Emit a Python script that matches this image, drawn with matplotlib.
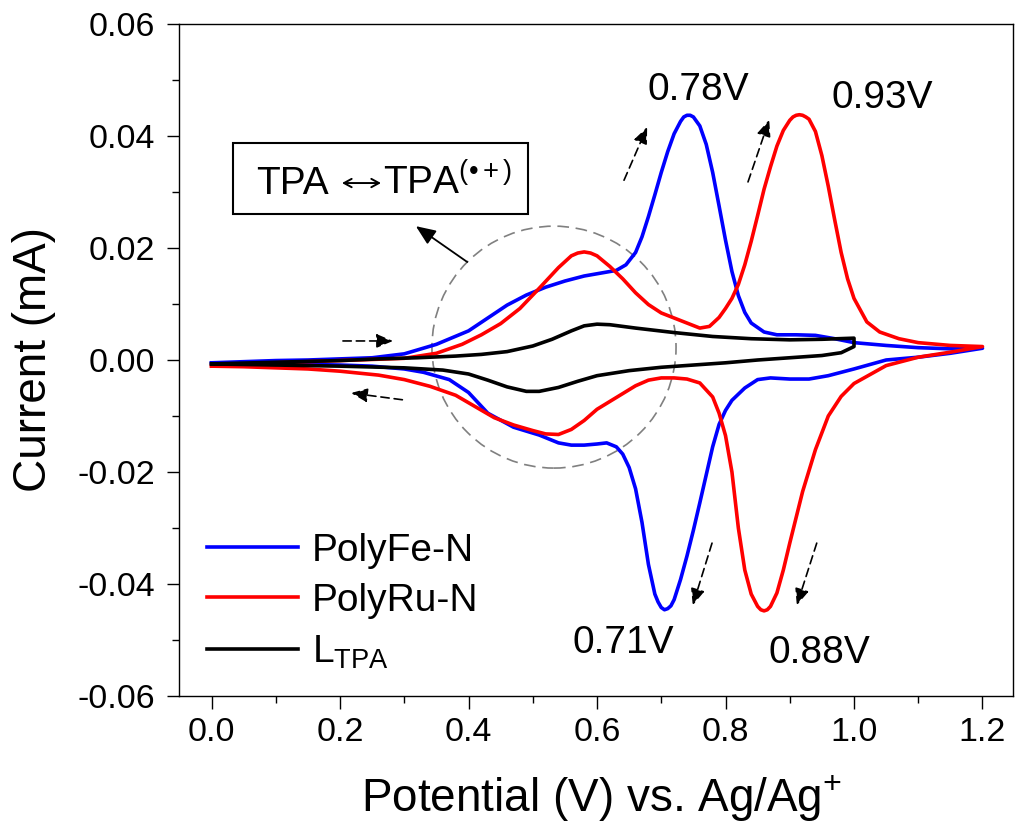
"""Cyclic voltammograms of PolyFe-N, PolyRu-N and the L_TPA ligand."""
import matplotlib
matplotlib.use("Agg")
import matplotlib.pyplot as plt
from matplotlib.patches import Ellipse, Rectangle
from matplotlib.ticker import MultipleLocator

plt.rcParams["font.family"] = ["Liberation Sans", "DejaVu Sans"]
plt.rcParams["mathtext.fontset"] = "custom"
plt.rcParams["mathtext.rm"] = "Liberation Sans"
plt.rcParams["mathtext.it"] = "Liberation Sans:italic"
plt.rcParams["mathtext.bf"] = "Liberation Sans:bold"

# PolyFe-N: anodic (forward) sweep 0 -> 1.2 V, then cathodic (reverse) 1.2 -> 0 V
FE_FWD_E = [0.00, 0.05, 0.10, 0.15, 0.20, 0.25, 0.30, 0.35, 0.40, 0.43, 0.46, 0.49,
            0.52, 0.55, 0.58, 0.61, 0.63, 0.645, 0.66, 0.67, 0.68, 0.69, 0.70, 0.71,
            0.72, 0.73, 0.735, 0.74, 0.745, 0.75, 0.76, 0.77, 0.78, 0.79, 0.80, 0.81,
            0.82, 0.83, 0.84, 0.86, 0.88, 0.91, 0.94, 0.97, 1.00, 1.05, 1.10, 1.15, 1.20]
FE_FWD_I = [-0.0005, -0.0003, -0.0001, 0.0000, 0.0002, 0.0004, 0.0011, 0.0028, 0.0052,
            0.0075, 0.0098, 0.0116, 0.0130, 0.0141, 0.0150, 0.0156, 0.0160, 0.0170,
            0.0192, 0.0220, 0.0256, 0.0295, 0.0335, 0.0372, 0.0404, 0.0426, 0.0434,
            0.0437, 0.0437, 0.0434, 0.0418, 0.0385, 0.0335, 0.0275, 0.0214, 0.0158,
            0.0115, 0.0085, 0.0066, 0.0050, 0.0045, 0.0045, 0.0044, 0.0038, 0.0031,
            0.0026, 0.0022, 0.0020, 0.0021]
FE_REV_E = [1.20, 1.15, 1.10, 1.05, 1.00, 0.96, 0.93, 0.90, 0.87, 0.85, 0.83, 0.81,
            0.80, 0.79, 0.78, 0.77, 0.76, 0.75, 0.74, 0.73, 0.72, 0.715, 0.71, 0.705,
            0.70, 0.695, 0.69, 0.68, 0.67, 0.66, 0.65, 0.64, 0.63, 0.615, 0.60, 0.58,
            0.56, 0.54, 0.51, 0.47, 0.43, 0.40, 0.37, 0.33, 0.30, 0.25, 0.20, 0.10, 0.00]
FE_REV_I = [0.0021, 0.0012, 0.0005, 0.0000, -0.0016, -0.0028, -0.0034, -0.0034, -0.0032,
            -0.0035, -0.0050, -0.0072, -0.0090, -0.0115, -0.0155, -0.0205, -0.0255,
            -0.0304, -0.0350, -0.0392, -0.0428, -0.0439, -0.0444, -0.0446, -0.0442,
            -0.0432, -0.0418, -0.0365, -0.0290, -0.0230, -0.0192, -0.0168, -0.0155,
            -0.0148, -0.0150, -0.0152, -0.0152, -0.0148, -0.0134, -0.0120, -0.0095,
            -0.0058, -0.0035, -0.0022, -0.0016, -0.0011, -0.0009, -0.0007, -0.0005]

# PolyRu-N
RU_FWD_E = [0.00, 0.05, 0.10, 0.15, 0.20, 0.25, 0.30, 0.35, 0.39, 0.42, 0.45, 0.48,
            0.51, 0.54, 0.56, 0.57, 0.58, 0.59, 0.60, 0.62, 0.64, 0.66, 0.68, 0.70,
            0.72, 0.74, 0.76, 0.775, 0.79, 0.80, 0.81, 0.82, 0.83, 0.84, 0.85, 0.86,
            0.87, 0.88, 0.89, 0.90, 0.905, 0.91, 0.915, 0.92, 0.925, 0.93, 0.94, 0.95,
            0.96, 0.97, 0.98, 0.99, 1.00, 1.02, 1.04, 1.07, 1.10, 1.15, 1.20]
RU_FWD_I = [-0.0011, -0.0008, -0.0005, -0.0003, -0.0001, 0.0001, 0.0003, 0.0012, 0.0028,
            0.0045, 0.0065, 0.0092, 0.0128, 0.0165, 0.0186, 0.0191, 0.0193, 0.0191,
            0.0186, 0.0167, 0.0145, 0.0120, 0.0099, 0.0084, 0.0075, 0.0066, 0.0057,
            0.0060, 0.0076, 0.0092, 0.0110, 0.0135, 0.0170, 0.0212, 0.0258, 0.0305,
            0.0345, 0.0382, 0.0410, 0.0428, 0.0434, 0.0437, 0.0438, 0.0437, 0.0434,
            0.0430, 0.0408, 0.0365, 0.0310, 0.0250, 0.0192, 0.0145, 0.0110, 0.0068,
            0.0050, 0.0038, 0.0031, 0.0026, 0.0024]
RU_REV_E = [1.20, 1.15, 1.10, 1.05, 1.00, 0.98, 0.96, 0.94, 0.92, 0.90, 0.89, 0.88,
            0.87, 0.865, 0.86, 0.855, 0.85, 0.84, 0.83, 0.82, 0.81, 0.80, 0.79, 0.78,
            0.76, 0.74, 0.72, 0.70, 0.68, 0.66, 0.64, 0.62, 0.60, 0.58, 0.56, 0.54,
            0.52, 0.50, 0.47, 0.44, 0.41, 0.38, 0.34, 0.30, 0.26, 0.20, 0.15, 0.10,
            0.05, 0.00]
RU_REV_I = [0.0024, 0.0014, 0.0005, -0.0010, -0.0042, -0.0065, -0.0100, -0.0160, -0.0235,
            -0.0327, -0.0375, -0.0416, -0.0440, -0.0446, -0.0448, -0.0446, -0.0440,
            -0.0418, -0.0375, -0.0300, -0.0200, -0.0135, -0.0095, -0.0066, -0.0041,
            -0.0034, -0.0032, -0.0032, -0.0036, -0.0046, -0.0060, -0.0074, -0.0088,
            -0.0108, -0.0124, -0.0133, -0.0132, -0.0126, -0.0116, -0.0103, -0.0083,
            -0.0063, -0.0047, -0.0035, -0.0027, -0.0020, -0.0016, -0.0014, -0.0012,
            -0.0011]

# L_TPA ligand, swept only to 1.0 V
L_FWD_E = [0.00, 0.10, 0.20, 0.26, 0.32, 0.38, 0.42, 0.46, 0.50, 0.53, 0.56, 0.58,
           0.60, 0.62, 0.66, 0.72, 0.78, 0.84, 0.90, 0.95, 1.00]
L_FWD_I = [-0.0007, -0.0004, -0.0001, 0.0002, 0.0004, 0.0007, 0.0010, 0.0015, 0.0025,
           0.0037, 0.0052, 0.0061, 0.0064, 0.0063, 0.0057, 0.0049, 0.0042, 0.0038,
           0.0036, 0.0037, 0.0039]
L_REV_E = [1.00, 0.98, 0.95, 0.90, 0.85, 0.80, 0.75, 0.70, 0.65, 0.60, 0.57, 0.54,
           0.51, 0.49, 0.46, 0.43, 0.40, 0.36, 0.30, 0.20, 0.10, 0.00]
L_REV_I = [0.0024, 0.0013, 0.0008, 0.0004, 0.0000, -0.0005, -0.0009, -0.0013, -0.0019,
           -0.0028, -0.0038, -0.0049, -0.0056, -0.0056, -0.0048, -0.0036, -0.0025,
           -0.0018, -0.0014, -0.0011, -0.0009, -0.0007]

SERIES = [
    ("PolyFe-N", "#0000ff", FE_FWD_E + FE_REV_E, FE_FWD_I + FE_REV_I),
    ("PolyRu-N", "#ff0000", RU_FWD_E + RU_REV_E, RU_FWD_I + RU_REV_I),
    (r"L$_{\mathrm{TPA}}$", "#000000", L_FWD_E + L_REV_E, L_FWD_I + L_REV_I),
]

# peak potential labels: text, x, baseline y
PEAK_LABELS = [
    ("0.78V", 0.758, 0.0464),
    ("0.93V", 1.044, 0.0450),
    ("0.71V", 0.641, -0.0523),
    ("0.88V", 0.946, -0.0541),
]

# dashed scan-direction arrows: (tail, tip)
SCAN_ARROWS = [
    ((0.2045, 0.0034), (0.2824, 0.0034)),
    ((0.297, -0.0071), (0.217, -0.0059)),
    ((0.642, 0.0321), (0.678, 0.0416)),
    ((0.835, 0.0318), (0.868, 0.0429)),
    ((0.779, -0.0327), (0.749, -0.0438)),
    ((0.942, -0.0327), (0.911, -0.0438)),
]

fig = plt.figure(figsize=(10.15, 8.34), dpi=100)
ax = fig.add_axes([179 / 1015, 138 / 834, 834 / 1015, 672 / 834])

for label, color, e, i in SERIES:
    ax.plot(e, i, color=color, lw=2.6, label=label, solid_joinstyle="round")

ax.set_xlim(-0.0507, 1.2475)
ax.set_ylim(-0.06, 0.06)
ax.xaxis.set_major_locator(MultipleLocator(0.2))
ax.xaxis.set_minor_locator(MultipleLocator(0.1))
ax.yaxis.set_major_locator(MultipleLocator(0.02))
ax.yaxis.set_minor_locator(MultipleLocator(0.01))
ax.xaxis.set_major_formatter(plt.FuncFormatter(lambda v, p: f"{v:.1f}"))
ax.yaxis.set_major_formatter(plt.FuncFormatter(lambda v, p: f"{v:.2f}".replace("\u2212", "-")))
ax.tick_params(which="major", direction="out", length=9, width=1, labelsize=24.5)
ax.tick_params(which="minor", direction="out", length=5, width=1)
ax.tick_params(axis="x", which="major", pad=6)
ax.tick_params(axis="y", which="major", pad=8)
for sp in ax.spines.values():
    sp.set_linewidth(1.0)

ax.set_xlabel(r"Potential (V) vs. Ag/Ag$^{+}$", fontsize=33)
ax.set_ylabel("Current (mA)", fontsize=33)
ax.xaxis.set_label_coords(0.507, -0.115)
ax.yaxis.set_label_coords(-0.148, 0.5)

leg = ax.legend(loc="upper left", bbox_to_anchor=(0.0336, 0.243), frameon=False,
                fontsize=28, handlelength=2.34, handletextpad=0.36,
                labelspacing=0.37, borderpad=0, borderaxespad=0)

for text, x, y in PEAK_LABELS:
    ax.text(x, y, text, fontsize=28, ha="center", va="baseline")

for tail, tip in SCAN_ARROWS:
    ax.annotate("", xy=tip, xytext=tail,
                arrowprops=dict(arrowstyle="-|>,head_length=1.0,head_width=0.42",
                                color="black", lw=1.2, ls=(0, (5, 3)),
                                shrinkA=0, shrinkB=0))

# dashed circle around the TPA redox region
ax.add_patch(Ellipse((0.533, 0.0023), 0.380, 0.0432, fill=False,
                     edgecolor="#808080", lw=1.2, ls=(0, (7, 4))))

# label box: "TPA <-> TPA(•+)" and its pointer
ax.add_patch(Rectangle((0.0333, 0.0261), 0.4592, 0.0127, fill=False,
                       edgecolor="black", lw=1.5))
ax.text(0.0695, 0.0296, "TPA", fontsize=28, ha="left", va="baseline")
ax.annotate("", xy=(0.2637, 0.0316), xytext=(0.203, 0.0316),
            arrowprops=dict(arrowstyle="<->,head_length=0.55,head_width=0.3",
                            color="black", lw=1.4, shrinkA=0, shrinkB=0))
ax.text(0.2667, 0.0296, "TPA$^{\\mathrm{(\u2022+)}}$", fontsize=28,
        ha="left", va="baseline")
ax.annotate("", xy=(0.318, 0.0239), xytext=(0.398, 0.0175),
            arrowprops=dict(arrowstyle="-|>,head_length=1.2,head_width=0.5",
                            color="black", lw=1.3, shrinkA=0, shrinkB=0))

fig.savefig("out.png", dpi=100)
